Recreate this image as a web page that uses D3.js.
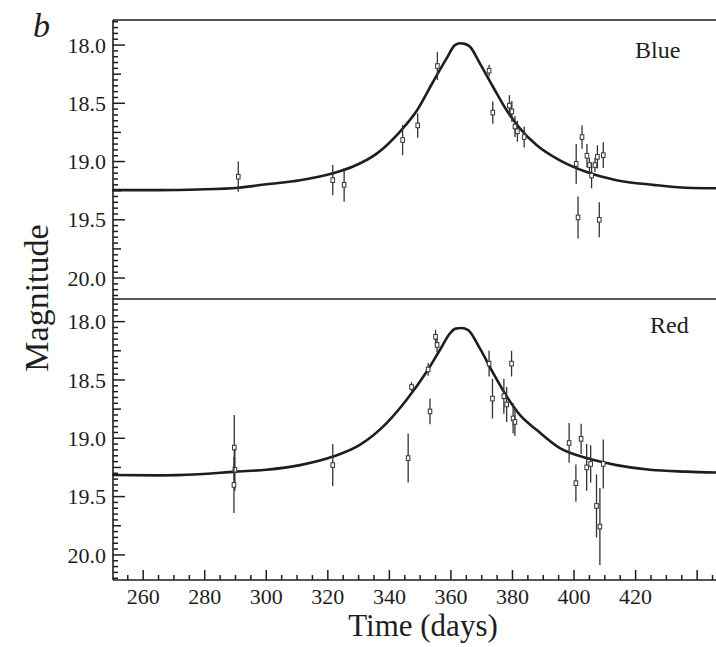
<!DOCTYPE html>
<html>
<head>
<meta charset="utf-8">
<script src="https://cdn.jsdelivr.net/npm/d3@7"></script>
<style>
    body { margin: 0; background: #fff; }
</style>
</head>
<body>
<svg id="chart" width="716" height="647" font-family="'Liberation Serif', 'Times New Roman', serif"></svg>
<script>
/* ------------------------------------------------------------------ */
/* ------------------------------ DATA ------------------------------ */
/* ------------------------------------------------------------------ */

// fitted light curves: [time (days), magnitude]
let blueCurve = [
    [250, 19.245], [265, 19.245], [278, 19.24], [291, 19.225], [300, 19.195],
    [311, 19.16], [321.7, 19.10], [328, 19.045], [336, 18.93], [343.4, 18.745],
    [349, 18.56], [354.2, 18.315], [358.6, 18.115], [361.3, 18.0], [363, 17.985],
    [364.5, 17.99], [366.2, 18.015], [369.4, 18.157], [373.7, 18.36], [378.1, 18.56],
    [382.4, 18.715], [387.9, 18.86], [395.4, 18.99], [404.1, 19.09], [413.8, 19.16],
    [425.7, 19.20], [436.6, 19.225], [447, 19.23]
]

let redCurve = [
    [250, 19.315], [265, 19.318], [278, 19.308], [290, 19.286], [300, 19.27],
    [311, 19.23], [321.7, 19.157], [330.4, 19.057], [339.1, 18.87], [345.6, 18.67],
    [352.1, 18.43], [356.4, 18.243], [359.7, 18.10], [361.5, 18.06], [363.5, 18.055],
    [365.5, 18.07], [369.4, 18.23], [373.7, 18.44], [378.1, 18.64], [382.4, 18.80],
    [387.9, 18.93], [395.4, 19.085], [404.1, 19.17], [413.8, 19.23], [424.7, 19.27],
    [436.6, 19.286], [447, 19.294]
]

// observations: [time, magnitude, error]
let bluePoints = [
    [290.9, 19.13, 0.13], [321.6, 19.16, 0.13], [325.3, 19.20, 0.145],
    [344.3, 18.815, 0.13], [349.2, 18.69, 0.105], [355.6, 18.18, 0.12],
    [372.4, 18.22, 0.05], [373.6, 18.58, 0.095], [379.0, 18.52, 0.09],
    [379.8, 18.57, 0.09], [380.8, 18.70, 0.09], [381.6, 18.74, 0.09],
    [383.8, 18.79, 0.09], [400.7, 19.02, 0.17], [401.3, 19.48, 0.18],
    [402.6, 18.79, 0.10], [404.2, 18.95, 0.10], [405.0, 19.03, 0.06],
    [405.7, 19.12, 0.11], [406.8, 19.03, 0.06], [407.6, 18.96, 0.10],
    [408.2, 19.50, 0.15], [409.5, 18.945, 0.11]
]

let redPoints = [
    [289.6, 19.08, 0.28], [289.8, 19.27, 0.18], [289.5, 19.40, 0.24],
    [321.6, 19.23, 0.18], [346.1, 19.17, 0.21], [347.2, 18.56, 0.04],
    [352.6, 18.41, 0.055], [353.2, 18.77, 0.11], [355.0, 18.13, 0.06],
    [355.5, 18.20, 0.06], [372.4, 18.36, 0.11], [373.5, 18.66, 0.17],
    [377.2, 18.64, 0.15], [378.1, 18.71, 0.15], [379.7, 18.36, 0.11],
    [380.2, 18.83, 0.13], [380.8, 18.86, 0.12], [398.4, 19.04, 0.17],
    [400.6, 19.385, 0.16], [402.3, 19.005, 0.13], [404.1, 19.25, 0.20],
    [405.4, 19.22, 0.16], [407.3, 19.58, 0.27], [408.4, 19.757, 0.33],
    [409.5, 19.22, 0.21]
]

let xTickLabels = [260, 280, 300, 320, 340, 360, 380, 400, 420]
let xMajorTicks = [260, 280, 300, 320, 340, 360, 380, 400, 420, 440]
let yTickLabels = [18.0, 18.5, 19.0, 19.5, 20.0]

/* ------------------------------------------------------------------ */
/* ----------------------------- LAYOUT ----------------------------- */
/* ------------------------------------------------------------------ */

let svg = d3.select("#chart")
let ink = '#1e1e1e'
let left = 113, right = 719
let top1 = 20, mid = 299, bottom = 580

let x = d3.scaleLinear().domain([250.2, 447.1]).range([left, right])
let yBlue = d3.scaleLinear().domain([17.785, 20.18]).range([top1, mid])
let yRed = d3.scaleLinear().domain([17.806, 20.215]).range([mid, bottom])

let xMinor = d3.range(51, 90).map(i => i * 5).filter(v => v % 20 != 0)
let yMinor = d3.range(356, 405).map(i => i / 20)

// tick length on the y axis: 0.5 -> long, 0.25 -> medium, else short
function yTickLen(v) {
    let q = Math.round(v * 20)
    if (q % 10 == 0) return 12
    if (q % 5 == 0) return 8
    return 5
}

/* ------------------------------------------------------------------ */
/* ------------------------------ PANELS ---------------------------- */
/* ------------------------------------------------------------------ */

function drawPanel(y, curve, points, label, labelX, labelY) {
    let g = svg.append('g')
    let [y0, y1] = y.range()

    // y ticks, pointing inward
    g.append('g').selectAll('line')
        .data(yMinor.filter(v => y(v) > y0 + 1 && y(v) < y1 - 1))
        .enter()
            .append('line')
            .attr('stroke', ink).attr('stroke-width', 1.5)
            .attr('x1', left).attr('x2', d => left + yTickLen(d))
            .attr('y1', d => y(d)).attr('y2', d => y(d))

    g.append('g').selectAll('text')
        .data(yTickLabels)
        .enter()
            .append('text')
            .attr('font-size', 22).attr('fill', ink)
            .attr('x', left - 7)
            .attr('y', d => y(d))
            .attr('dy', '0.35em')
            .attr('text-anchor', 'end')
            .text(d => d3.format(".1f")(d))

    let line = d3.line()
        .x(d => x(d[0]))
        .y(d => y(d[1]))
        .curve(d3.curveMonotoneX)

    g.append('path').datum(curve)
        .attr('fill', 'none').attr('stroke', ink).attr('stroke-width', 2.6)
        .attr('d', line)

    let pts = g.append('g').selectAll('g').data(points).enter().append('g')
    pts.append('line')
        .attr('stroke', '#333').attr('stroke-width', 1.3)
        .attr('x1', d => x(d[0])).attr('x2', d => x(d[0]))
        .attr('y1', d => y(d[1] - d[2])).attr('y2', d => y(d[1] + d[2]))
    pts.append('rect')
        .attr('stroke', '#333').attr('stroke-width', 1).attr('fill', '#fff')
        .attr('x', d => x(d[0]) - 1.8).attr('y', d => y(d[1]) - 2.3)
        .attr('width', 3.6).attr('height', 4.6)

    g.append('text')
        .attr('x', labelX).attr('y', labelY)
        .attr('font-size', 24).attr('fill', ink)
        .text(label)
}

drawPanel(yBlue, blueCurve, bluePoints, "Blue", 635, 58)
drawPanel(yRed, redCurve, redPoints, "Red", 650, 333)

/* ------------------------------------------------------------------ */
/* ------------------------------ X AXIS ---------------------------- */
/* ------------------------------------------------------------------ */

let xa = svg.append('g')
xa.selectAll('line.minor')
    .data(xMinor)
    .enter()
        .append('line')
        .attr('class', 'minor')
        .attr('stroke', ink).attr('stroke-width', 1.5)
        .attr('x1', d => x(d)).attr('x2', d => x(d))
        .attr('y1', bottom).attr('y2', bottom - 5)
xa.selectAll('line.major')
    .data(xMajorTicks)
    .enter()
        .append('line')
        .attr('class', 'major')
        .attr('stroke', ink).attr('stroke-width', 1.5)
        .attr('x1', d => x(d)).attr('x2', d => x(d))
        .attr('y1', bottom).attr('y2', bottom - 10)
xa.selectAll('text')
    .data(xTickLabels)
    .enter()
        .append('text')
        .attr('font-size', 22).attr('fill', ink)
        .attr('x', d => x(d))
        .attr('y', bottom + 24)
        .attr('text-anchor', 'middle')
        .text(d => d)

// frame lines
let frame = [[left, top1, 716, top1], [left, mid, 716, mid], [left, bottom, 716, bottom], [left, top1, left, bottom]]
svg.append('g').selectAll('line')
    .data(frame)
    .enter()
        .append('line')
        .attr('stroke', ink).attr('stroke-width', 1.6)
        .attr('x1', d => d[0]).attr('y1', d => d[1])
        .attr('x2', d => d[2]).attr('y2', d => d[3])

/* ------------------------------------------------------------------ */
/* ------------------------------ TITLES ---------------------------- */
/* ------------------------------------------------------------------ */

svg.append('text')
    .attr('x', 33).attr('y', 37)
    .attr('font-size', 34).attr('font-style', 'italic').attr('fill', ink)
    .text("b")

svg.append('text')
    .attr('transform', 'translate(48,298) rotate(-90)')
    .attr('text-anchor', 'middle')
    .attr('font-size', 34).attr('fill', ink)
    .text("Magnitude")

svg.append('text')
    .attr('x', 423).attr('y', 636)
    .attr('text-anchor', 'middle')
    .attr('font-size', 31).attr('fill', ink)
    .text("Time (days)")
</script>
</body>
</html>
